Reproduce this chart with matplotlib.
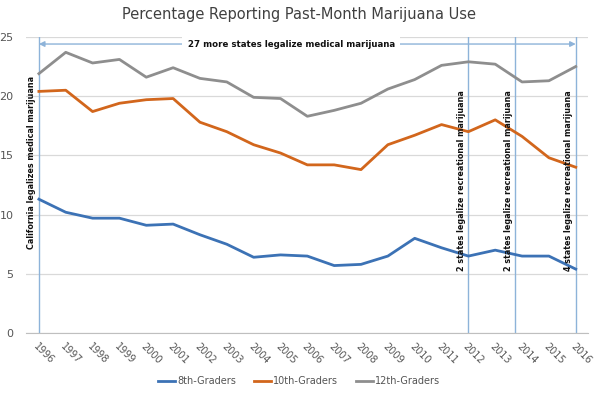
import matplotlib.pyplot as plt
import numpy as np

years = list(range(1996, 2017))
grade8 = [11.3, 10.2, 9.7, 9.7, 9.1, 9.2, 8.3, 7.5, 6.4, 6.6, 6.5, 5.7, 5.8, 6.5, 8.0, 7.2, 6.5, 7.0, 6.5, 6.5, 5.4]
grade10 = [20.4, 20.5, 18.7, 19.4, 19.7, 19.8, 17.8, 17.0, 15.9, 15.2, 14.2, 14.2, 13.8, 15.9, 16.7, 17.6, 17.0, 18.0, 16.6, 14.8, 14.0]
grade12 = [21.9, 23.7, 22.8, 23.1, 21.6, 22.4, 21.5, 21.2, 19.9, 19.8, 18.3, 18.8, 19.4, 20.6, 21.4, 22.6, 22.9, 22.7, 21.2, 21.3, 22.5]
series_names = ['8th-Graders', '10th-Graders', '12th-Graders']

event_years = [1996, 2012, 2013.75, 2016]
event_labels = ['California legalizes medical marijuana',
                '2 states legalize recreational marijuana',
                '2 states legalize recreational marijuana',
                '4 states legalize recreational marijuana']

fig = plt.figure(figsize=(5.98, 3.97), dpi=100)
ax = fig.add_axes([0.0435, 0.161, 0.9395, 0.746])

colors = ['#3C72B5', '#D2661C', '#8E8E8E']
for vals, name, c in zip([grade8, grade10, grade12], series_names, colors):
    ax.plot(years, vals, color=c, lw=2.0, label=name, zorder=3)

ax.set_xlim(1995.52, 2016.45)
ax.set_ylim(0, 25)
ax.set_yticks(np.arange(0, 26, 5))
ax.set_xticks(years)
ax.set_xticklabels([str(y) for y in years], rotation=-45, ha='left',
                   rotation_mode='anchor', fontsize=7, color='#555555')
ax.tick_params(axis='y', labelsize=8, labelcolor='#555555', length=0, pad=9)
ax.tick_params(axis='x', length=0, pad=6)
ax.grid(axis='y', color='#D9D9D9', lw=0.9)
ax.set_axisbelow(True)
for s in ['top', 'right', 'left']:
    ax.spines[s].set_visible(False)
ax.spines['bottom'].set_color('#BFBFBF')

# event lines and labels
for yr, lab in zip(event_years, event_labels):
    ax.axvline(yr, color='#8DB3D9', lw=1.0, zorder=2)
    ax.text(yr - 0.1, 5.2 if yr > 2000 else 7.1, lab, rotation=90, ha='right', va='bottom',
            fontsize=5.8, fontweight='bold', color='#111111', zorder=4)

# medical marijuana arrow
ax.annotate('', xy=(1996, 24.4), xytext=(2016, 24.4),
            arrowprops=dict(arrowstyle='<|-|>', color='#8DB3D9', lw=1.0,
                            mutation_scale=8, shrinkA=0, shrinkB=0), zorder=4)
ax.text(2005.4, 24.4, '27 more states legalize medical marijuana', ha='center', va='center',
        fontsize=6.2, fontweight='bold', color='#111111', zorder=5,
        bbox=dict(facecolor='white', edgecolor='none', pad=4))

fig.text(0.5, 0.963, 'Percentage Reporting Past-Month Marijuana Use', ha='center', va='center',
         fontsize=10.5, color='#404040')

fig.legend(loc='center', bbox_to_anchor=(0.5, 0.04), ncol=3, frameon=False,
           fontsize=7, handlelength=1.8, handletextpad=0.2, columnspacing=1.8,
           labelcolor='#555555')

fig.savefig('out.png', dpi=100)
